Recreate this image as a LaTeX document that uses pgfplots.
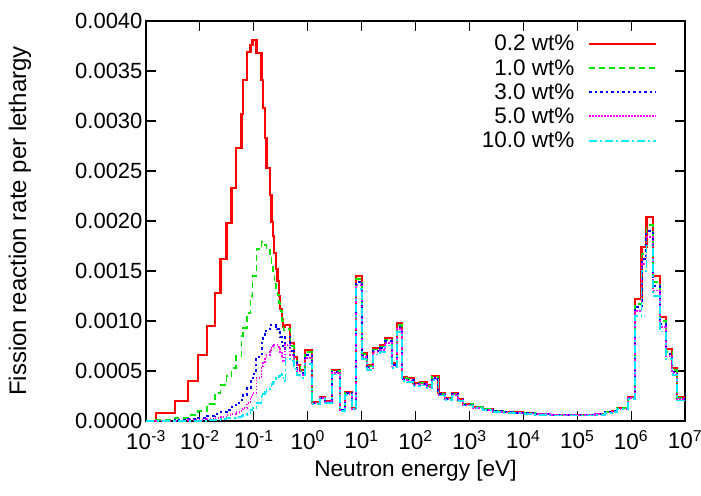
\documentclass[border=0pt]{standalone}
\usepackage{fontspec}
\setmainfont{Liberation Sans}
\usepackage{pgfplots}
\usepackage{pgfplotstable}
\pgfplotsset{compat=1.18}
\definecolor{cR}{RGB}{255,0,0}
\definecolor{cG}{RGB}{0,230,0}
\definecolor{cB}{RGB}{0,0,255}
\definecolor{cM}{RGB}{255,0,255}
\definecolor{cC}{RGB}{0,235,255}
\pgfplotstableread{
E r g b m c
1.000e-3 0 0 0 0 0
1.514e-3 0.00008 0.00001 0 0 0
3.443e-3 0.00020 0.00003 0.00001 0 0
6.095e-3 0.00040 0.00006 0.00002 0.00001 0
9.333e-3 0.00066 0.00010 0.00003 0.00001 0
1.371e-2 0.00095 0.00017 0.00005 0.00002 0.00001
1.897e-2 0.00128 0.00028 0.00007 0.00003 0.00001
2.415e-2 0.00162 0.00036 0.00009 0.00004 0.00002
3.119e-2 0.00198 0.00045 0.00011 0.00006 0.00003
3.864e-2 0.00233 0.00053 0.00014 0.00007 0.00003
4.645e-2 0.00273 0.00065 0.00018 0.00009 0.00004
5.916e-2 0.00307 0.00085 0.00023 0.00012 0.00005
6.368e-2 0.00341 0.00093 0.00026 0.00013 0.00006
7.551e-2 0.00369 0.00108 0.00033 0.00018 0.00008
8.690e-2 0.00376 0.00125 0.00040 0.00024 0.00011
9.462e-2 0.00381 0.00145 0.00047 0.00028 0.00013
0.1122 0.00368 0.00172 0.00064 0.00043 0.00018
0.1390 0.00341 0.00179 0.00080 0.00055 0.00025
0.1493 0.00313 0.00178 0.00083 0.00058 0.00027
0.1600 0.00283 0.00176 0.00087 0.00062 0.00029
0.1718 0.00253 0.00171 0.00090 0.00066 0.00031
0.1977 0.00226 0.00163 0.00094 0.00071 0.00035
0.2128 0.00199 0.00155 0.00096 0.00073 0.00037
0.2270 0.00185 0.00148 0.00096 0.00075 0.00039
0.2415 0.00168 0.00140 0.00096 0.00076 0.00041
0.2576 0.00152 0.00133 0.00094 0.00076 0.00043
0.2748 0.00140 0.00126 0.00092 0.00074 0.00044
0.2931 0.00125 0.00118 0.00089 0.00072 0.00045
0.3119 0.00112 0.00110 0.00084 0.00069 0.00046
0.3327 0.00102 0.00100 0.00079 0.00065 0.00047
0.3548 0.00094 0.00091 0.00072 0.00060 0.00040
0.3864 0.00096 0.00092 0.00084 0.00076 0.00062
0.4786 0.00078 0.00075 0.00070 0.00066 0.00060
0.5508 0.00064 0.00062 0.00059 0.00056 0.00052
0.6368 0.00056 0.00054 0.00052 0.00050 0.00046
0.7328 0.00051 0.00050 0.00048 0.00046 0.00043
0.9057 0.00071 0.00069 0.00066 0.00063 0.00057
1.205 0.00019 0.000186 0.000182 0.000179 0.000173
1.718 0.00024 0.000235 0.000230 0.000226 0.000218
2.128 0.00020 0.000196 0.000192 0.000188 0.000182
2.864 0.00051 0.000500 0.000490 0.000479 0.000464
4.036 0.00011 0.000108 0.000106 0.000103 0.000100
4.989 0.00029 0.000284 0.000278 0.000273 0.000264
6.637 0.00013 0.000127 0.000125 0.000122 0.000118
7.980 0.00145 0.001421 0.001392 0.001363 0.001320
10.30 0.00068 0.000666 0.000653 0.000639 0.000619
12.76 0.00056 0.000549 0.000538 0.000526 0.000510
16.48 0.00073 0.000715 0.000701 0.000686 0.000664
22.18 0.00076 0.000745 0.000730 0.000714 0.000692
27.48 0.00083 0.000813 0.000797 0.000780 0.000755
36.56 0.00058 0.000568 0.000557 0.000545 0.000528
45.29 0.00098 0.000960 0.000941 0.000921 0.000892
55.98 0.00044 0.000431 0.000422 0.000414 0.000400
69.34 0.00043 0.000421 0.000413 0.000404 0.000391
91.83 0.00038 0.000372 0.000365 0.000357 0.000346
122.2 0.00039 0.000382 0.000374 0.000367 0.000355
162.6 0.00036 0.000353 0.000346 0.000338 0.000328
201.4 0.00045 0.000441 0.000432 0.000423 0.000410
266.7 0.00028 0.000274 0.000269 0.000263 0.000255
354.8 0.00023 0.000225 0.000221 0.000216 0.000209
472.1 0.00028 0.000274 0.000269 0.000263 0.000255
625.2 0.00022 0.000216 0.000211 0.000207 0.000200
774.5 0.00017 0.000167 0.000163 0.000160 0.000155
1186 0.00014 0.000137 0.000134 0.000132 0.000127
1816 0.00012 0.000118 0.000115 0.000113 0.000109
2748 0.00010 0.000098 0.000096 0.000094 0.000091
4207 0.00009 0.000088 0.000086 0.000085 0.000082
6442 0.000085 0.000083 0.000082 0.000080 0.000077
9863 0.00008 0.000078 0.000077 0.000075 0.000073
16480 0.00007 0.000069 0.000067 0.000066 0.000064
31190 0.00006 0.000059 0.000058 0.000056 0.000055
59160 0.00006 0.000059 0.000058 0.000056 0.000055
112200 0.00006 0.000059 0.000058 0.000056 0.000055
212800 0.00007 0.000069 0.000067 0.000066 0.000064
325800 0.00009 0.000088 0.000086 0.000085 0.000082
439500 0.00010 0.000098 0.000096 0.000094 0.000091
543300 0.00013 0.000127 0.000125 0.000122 0.000118
879000 0.00024 0.000235 0.000230 0.000226 0.000218
1.172e6 0.00122 0.001171 0.001135 0.001098 0.001049
1.560e6 0.00174 0.001670 0.001618 0.001566 0.001496
1.928e6 0.00204 0.001958 0.001897 0.001836 0.001754
2.553e6 0.00145 0.001392 0.001349 0.001305 0.001247
3.396e6 0.00104 0.000998 0.000967 0.000936 0.000894
4.395e6 0.00072 0.000691 0.000670 0.000648 0.000619
5.848e6 0.00053 0.000509 0.000493 0.000477 0.000456
7.112e6 0.00024 0.000230 0.000223 0.000216 0.000206
8.570e6 0.00024 0.000230 0.000223 0.000216 0.000206
1.000e7 0.00024 0.000230 0.000223 0.000216 0.000206
}\spectrum
\begin{document}
\begin{tikzpicture}[font=\fontsize{22.5}{27}\selectfont]
\begin{axis}[
  scale only axis,
  width=539pt, height=400pt,
  xmode=log,
  xmin=1e-3, xmax=1e7,
  ymin=0, ymax=0.004,
  xtick={1e-3,1e-2,1e-1,1,1e1,1e2,1e3,1e4,1e5,1e6,1e7},
  xticklabels={10\textsuperscript{-3},10\textsuperscript{-2},10\textsuperscript{-1},10\textsuperscript{0},10\textsuperscript{1},10\textsuperscript{2},10\textsuperscript{3},10\textsuperscript{4},10\textsuperscript{5},10\textsuperscript{6},10\textsuperscript{7}},
  xticklabel style={font=\fontsize{22.5}{27}\selectfont, yshift=-6pt},
  xminorticks=false,
  ytick={0,0.0005,0.001,0.0015,0.002,0.0025,0.003,0.0035,0.004},
  scaled y ticks=false,
  yticklabel style={font=\fontsize{22}{26}\selectfont, /pgf/number format/.cd, fixed, fixed zerofill, precision=4, assume math mode=true},
  tick align=inside,
  major tick length=10pt,
  tick style={line width=1.2pt, black},
  axis line style={line width=1.2pt},
  xlabel={Neutron energy [eV]},
  ylabel={Fission reaction rate per lethargy},
  xlabel style={font=\fontsize{22.6}{27}\selectfont, at={(axis description cs:0.5,0)}, anchor=center, yshift=-50pt},
  ylabel style={font=\fontsize{24}{28}\selectfont, at={(axis description cs:0,0.5)}, anchor=center, yshift=126pt},
  legend plot pos=right,
  legend cell align=right,
  legend image code/.code={\path (-12pt,0pt); \draw[#1] (0pt,0pt) -- (67pt,0pt);},
  legend style={at={(0.955,0.975)}, anchor=north east, draw=none, fill=none,
    row sep=3pt, font=\fontsize{22.5}{27}\selectfont},
]
\addplot[const plot, color=cR, line width=2.1pt, solid] table[x=E, y=r] {\spectrum};
\addlegendentry{0.2 wt\%}
\addplot[const plot, color=cG, line width=1.8pt, dash pattern=on 6pt off 4pt] table[x=E, y=g] {\spectrum};
\addlegendentry{1.0 wt\%}
\addplot[const plot, color=cB, line width=2pt, dash pattern=on 2.5pt off 3pt] table[x=E, y=b] {\spectrum};
\addlegendentry{3.0 wt\%}
\addplot[const plot, color=cM, line width=1.9pt, dash pattern=on 1.5pt off 1.5pt] table[x=E, y=m] {\spectrum};
\addlegendentry{5.0 wt\%}
\addplot[const plot, color=cC, line width=1.8pt, dash pattern=on 8pt off 3pt on 2pt off 3pt] table[x=E, y=c] {\spectrum};
\addlegendentry{10.0 wt\%}
\end{axis}
\pgfresetboundingbox
\path[use as bounding box] (current axis.south west) ++(-146pt,-74pt) rectangle ++(701pt,495pt);
\end{tikzpicture}
\end{document}
